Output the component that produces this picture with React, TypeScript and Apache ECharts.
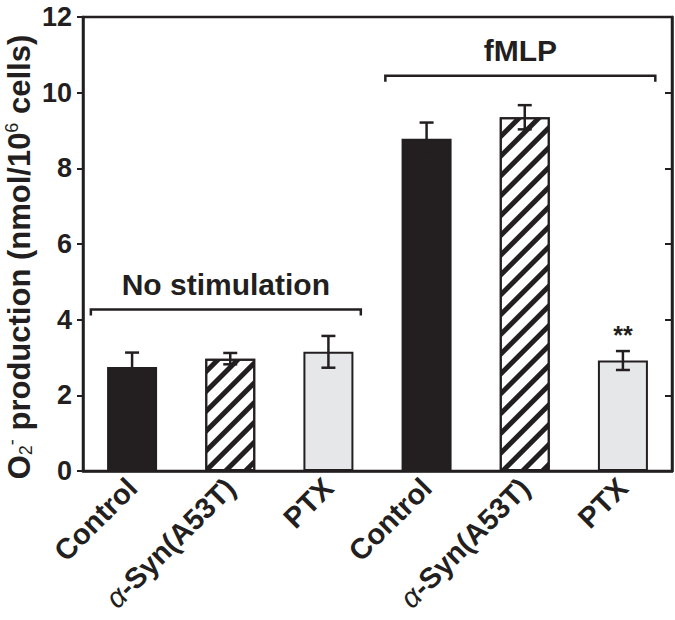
import React, { useEffect, useRef } from "react";
import * as echarts from "echarts";

const categories = ["Control", "α-Syn(A53T)", "PTX", "Control", "α-Syn(A53T)", "PTX"];
const means = [2.75, 2.97, 3.15, 8.78, 9.35, 2.92];
const errors = [0.38, 0.15, 0.42, 0.43, 0.32, 0.25];
const fillKinds = ["solid", "hatch", "light", "solid", "hatch", "light"];
const significance = ["", "", "", "", "", "**"];
const groupLabels = ["No stimulation", "fMLP"];
const groupFrom = [0, 3];
const groupTo = [2, 5];
const groupLevel = [4.27, 10.45];
const yMin = 0;
const yMax = 12;
const yInterval = 2;

const INK = "#231f20";
const FONT = "'Liberation Sans', Arial, Helvetica, sans-serif";

export default function App() {
  const ref = useRef<HTMLDivElement>(null);
  useEffect(() => {
    if (!ref.current) return;
    const chart = echarts.init(ref.current, undefined, { renderer: "svg" });

    const barData = means.map((v, i) => {
      const kind = fillKinds[i];
      const itemStyle: any = {
        color: kind === "solid" ? INK : kind === "light" ? "#e6e7e8" : "#ffffff",
        borderColor: INK,
        borderWidth: 2,
      };
      if (kind === "hatch") {
        itemStyle.decal = {
          symbol: "rect",
          symbolSize: 1,
          color: INK,
          backgroundColor: "#ffffff",
          dashArrayX: [1, 0],
          dashArrayY: [4.5, 9],
          rotation: -Math.PI / 4,
        };
      }
      return { value: v, itemStyle };
    });

    const errData = means.map((m, i) => [i, m - errors[i], m + errors[i]]);
    const bracketData = groupLabels.map((_, g) => [groupFrom[g], groupTo[g], groupLevel[g], g]);

    const option: any = {
      animation: false,
      grid: { left: 83, right: 3, top: 17, bottom: 149, show: true, borderColor: INK, borderWidth: 2.5 },
      xAxis: {
        type: "category",
        data: categories,
        axisTick: { show: false },
        axisLine: { lineStyle: { color: INK, width: 2.5 } },
        axisLabel: {
          rotate: 45,
          margin: 12,
          interval: 0,
          color: INK,
          fontFamily: FONT,
          fontWeight: "bold",
          fontSize: 29,
          formatter: (v: string) =>
            v.startsWith("α") ? "{a|α}{b|" + v.slice(1) + "}" : "{b|" + v + "}",
          rich: {
            a: { fontFamily: FONT, fontStyle: "italic", fontWeight: "normal", fontSize: 29, color: INK },
            b: { fontFamily: FONT, fontWeight: "bold", fontSize: 29, color: INK },
          },
        },
      },
      yAxis: [
        {
          type: "value",
          min: yMin,
          max: yMax,
          interval: yInterval,
          splitLine: { show: false },
          axisLine: { show: true, lineStyle: { color: INK, width: 2.5 } },
          axisTick: { show: true, inside: false, length: 6, lineStyle: { color: INK, width: 2 } },
          axisLabel: { margin: 11, color: INK, fontFamily: FONT, fontWeight: "bold", fontSize: 27 },
        },
        {
          type: "value",
          position: "right",
          min: yMin,
          max: yMax,
          interval: yInterval,
          splitLine: { show: false },
          axisLine: { show: true, lineStyle: { color: INK, width: 2.5 } },
          axisTick: { show: true, inside: true, length: 7, lineStyle: { color: INK, width: 2 } },
          axisLabel: { show: false },
        },
      ],
      series: [
        {
          type: "bar",
          data: barData,
          barWidth: 50,
          z: 2,
        },
        {
          type: "custom",
          data: errData,
          encode: { x: 0, y: [1, 2] },
          z: 3,
          clip: false,
          renderItem: (params: any, api: any) => {
            const idx = api.value(0);
            const lo = api.coord([idx, api.value(1)]);
            const hi = api.coord([idx, api.value(2)]);
            const x = hi[0];
            const cap = 7;
            const st = { stroke: INK, lineWidth: 2.5 };
            const children: any[] = [
              { type: "line", shape: { x1: x, y1: hi[1], x2: x, y2: lo[1] }, style: st },
              { type: "line", shape: { x1: x - cap, y1: hi[1], x2: x + cap, y2: hi[1] }, style: st },
              { type: "line", shape: { x1: x - cap, y1: lo[1], x2: x + cap, y2: lo[1] }, style: st },
            ];
            const sig = significance[params.dataIndex];
            if (sig) {
              children.push({
                type: "text",
                style: {
                  x: x,
                  y: hi[1] - 4,
                  text: sig,
                  align: "center",
                  verticalAlign: "bottom",
                  fill: INK,
                  fontFamily: FONT,
                  fontWeight: "bold",
                  fontSize: 25,
                },
              });
            }
            return { type: "group", children };
          },
        },
        {
          type: "custom",
          data: bracketData,
          encode: { x: [0, 1], y: 2 },
          z: 3,
          clip: false,
          renderItem: (params: any, api: any) => {
            const band = api.size([1, 0])[0];
            const p0 = api.coord([api.value(0), api.value(2)]);
            const p1 = api.coord([api.value(1), api.value(2)]);
            const x0 = p0[0] - 0.42 * band;
            const x1 = p1[0] + 0.33 * band;
            const y = p0[1];
            const label = groupLabels[api.value(3)];
            return {
              type: "group",
              children: [
                {
                  type: "polyline",
                  shape: { points: [[x0, y + 6], [x0, y], [x1, y], [x1, y + 6]] },
                  style: { stroke: INK, lineWidth: 2.5, fill: null },
                },
                {
                  type: "text",
                  style: {
                    x: (x0 + x1) / 2,
                    y: y - 25,
                    text: label,
                    align: "center",
                    verticalAlign: "middle",
                    fill: INK,
                    fontFamily: FONT,
                    fontWeight: "bold",
                    fontSize: 30,
                  },
                },
              ],
            };
          },
        },
      ],
      graphic: [
        {
          type: "text",
          x: 19,
          y: 257,
          rotation: Math.PI / 2,
          style: {
            text: "{b|O}{sub|2}{sup|-}{b| production (nmol/10}{sup|6}{b| cells)}",
            align: "center",
            verticalAlign: "middle",
            fill: INK,
            rich: {
              b: { fontFamily: FONT, fontWeight: "bold", fontSize: 31, fill: INK, lineHeight: 36 },
              sub: { fontFamily: FONT, fontWeight: "normal", fontSize: 18, fill: INK, lineHeight: 36, padding: [13, 0, 0, 0] },
              sup: { fontFamily: FONT, fontWeight: "normal", fontSize: 18, fill: INK, lineHeight: 36, padding: [0, 0, 15, 0] },
            },
          },
        },
      ],
    };

    chart.setOption(option);
    return () => chart.dispose();
  }, []);

  return (
    <div
      ref={ref}
      style={{ position: "fixed", left: 0, top: 0, width: 675, height: 620, background: "#fff" }}
    />
  );
}
